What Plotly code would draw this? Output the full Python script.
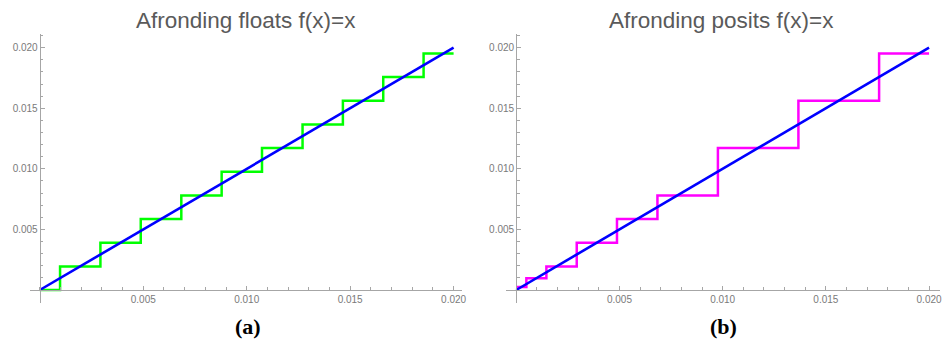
import plotly.graph_objects as go

# ---- data ----
ident_x = [0.0, 0.02]
ident_y = [0.0, 0.02]

float_edges = [0.0, 0.00098, 0.00293, 0.00488, 0.00684, 0.00879, 0.01074,
               0.0127, 0.01465, 0.0166, 0.01855, 0.02]
float_levels = [0.0, 0.00195, 0.0039, 0.00586, 0.00781, 0.00977, 0.01172,
                0.01367, 0.01562, 0.01758, 0.01953]

posit_edges = [0.0, 0.00049, 0.00146, 0.00293, 0.00488, 0.00684, 0.00977,
               0.01367, 0.01758, 0.02]
posit_levels = [0.00024, 0.00098, 0.00195, 0.0039, 0.00586, 0.00781,
                0.01172, 0.01562, 0.01953]

tick_vals = [0.005, 0.010, 0.015, 0.020]
tick_text = ["0.005", "0.010", "0.015", "0.020"]

titles = ["Afronding floats f(x)=x", "Afronding posits f(x)=x"]
sublabels = ["(a)", "(b)"]

# ---- figure ----
W, H = 945, 339
fig = go.Figure()

def px_x(p):
    return p / W

def px_y(p):
    return 1 - p / H

# step traces
fig.add_trace(go.Scatter(x=float_edges, y=float_levels + [float_levels[-1]],
                         mode="lines", line=dict(color="#00ff00", width=2.5, shape="hv"),
                         xaxis="x", yaxis="y", cliponaxis=False, showlegend=False))
fig.add_trace(go.Scatter(x=ident_x, y=ident_y, mode="lines",
                         line=dict(color="#0000ff", width=2.6),
                         xaxis="x", yaxis="y", cliponaxis=False, showlegend=False))
fig.add_trace(go.Scatter(x=posit_edges, y=posit_levels + [posit_levels[-1]],
                         mode="lines", line=dict(color="#ff00ff", width=2.5, shape="hv"),
                         xaxis="x2", yaxis="y2", cliponaxis=False, showlegend=False))
fig.add_trace(go.Scatter(x=ident_x, y=ident_y, mode="lines",
                         line=dict(color="#0000ff", width=2.6),
                         xaxis="x2", yaxis="y2", cliponaxis=False, showlegend=False))

axis_col = "#a6a6a6"
lab_col = "#7a7a7a"
tickfont = dict(family="Liberation Sans, Arial, sans-serif", size=10, color=lab_col)

def xaxis_def(dom, rng):
    return dict(domain=dom, range=rng, anchor="free", position=px_y(290),
                showgrid=False, zeroline=False, showline=True, linecolor=axis_col,
                linewidth=1.2, ticks="inside", ticklen=4, tickcolor=axis_col,
                tickmode="array", tickvals=tick_vals, ticktext=tick_text,
                tickfont=tickfont,
                minor=dict(ticks="inside", dtick=0.001, tick0=0, ticklen=2.5,
                           tickcolor=axis_col, showgrid=False))

def yaxis_def(pos, rng):
    return dict(domain=[px_y(303), px_y(34)], range=rng, anchor="free", position=pos,
                showgrid=False, zeroline=False, showline=True, linecolor=axis_col,
                linewidth=1.2, ticks="inside", ticklen=4, tickcolor=axis_col,
                tickmode="array", tickvals=tick_vals, ticktext=tick_text,
                tickfont=tickfont,
                minor=dict(ticks="inside", dtick=0.001, tick0=0, ticklen=2.5,
                           tickcolor=axis_col, showgrid=False))

ys = 12115.0
yr = [-(303 - 290) / ys, (290 - 34) / ys]
xs1 = 20800.0
xs2 = 20750.0

fig.update_layout(
    width=W, height=H, margin=dict(l=0, r=0, t=0, b=0),
    paper_bgcolor="white", plot_bgcolor="white",
    xaxis=xaxis_def([px_x(30), px_x(464)], [(30 - 40) / xs1, (464 - 40) / xs1]),
    yaxis=yaxis_def(px_x(40), yr),
    xaxis2=xaxis_def([px_x(509), 1.0], [(509 - 519) / xs2, (945 - 519) / xs2]),
    yaxis2=yaxis_def(px_x(519), yr),
)

title_font = dict(family="Liberation Sans, Arial, sans-serif", size=22.5, color="#5a5a5a")
label_font = dict(family="Liberation Serif, Times New Roman, serif", size=22, color="#000000")
for cx, t, s in zip([247.5, 725.5], titles, sublabels):
    fig.add_annotation(x=px_x(cx), y=px_y(21), xref="paper", yref="paper", text=t,
                       showarrow=False, font=title_font, xanchor="center", yanchor="middle")
    fig.add_annotation(x=px_x(cx + 2), y=px_y(326), xref="paper", yref="paper",
                       text="<b>" + s + "</b>", showarrow=False, font=label_font,
                       xanchor="center", yanchor="middle")

fig.write_html("out.html")
